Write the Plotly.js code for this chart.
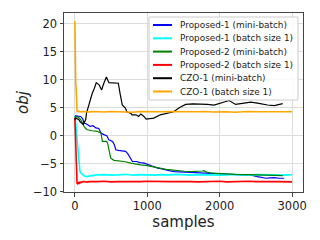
<!DOCTYPE html>
<html>
<head>
<meta charset="utf-8">
<script src="https://cdn.plot.ly/plotly-3.0.1.min.js"></script>
<style>html,body{margin:0;padding:0;background:#fff;}#chart{width:320px;height:240px;}</style>
</head>
<body>
<div id="chart"></div>
<script>
// ---- data ----
const seriesNames = ["Proposed-1 (mini-batch)", "Proposed-1 (batch size 1)", "Proposed-2 (mini-batch)",
  "Proposed-2 (batch size 1)", "CZO-1 (mini-batch)", "CZO-1 (batch size 1)"];
const seriesColors = ["#0000ff", "#00ffff", "#008000", "#ff0000", "#000000", "#ffa500"];

const flatX = [300,400,500,600,700,800,900,1000,1100,1200,1300,1400,1500,1600,1700,1800,1900,2000,2100,2200,2300,2400,2500,2600,2700,2800,2900,3000];

const p1mbX = [0,10,40,80,110,125,160,210,250,290,330,360,400,440,470,520,545,565,600,650,700,730,750,795,850,900,960,1000,1050,1100,1145,1190,1235,1300,1375,1450,1515,1600,1735,1850,2015,2200,2385,2450,2520,2580,2640,2700,2755,2820,2890];
const p1mbY = [3.3,3.6,3.5,3.45,3.0,2.3,2.1,1.7,1.8,1.4,1.3,0.5,0.2,0.0,-0.7,-1.0,-1.6,-2.5,-2.6,-2.7,-2.8,-3.2,-3.7,-4.6,-4.6,-4.8,-4.9,-5.1,-5.4,-5.6,-5.8,-5.9,-6.1,-6.25,-6.4,-6.45,-6.5,-6.5,-6.55,-6.7,-6.8,-6.9,-6.96,-7.1,-7.3,-7.45,-7.6,-7.55,-7.5,-7.6,-7.6];

const p1b1X = [0,5,10,20,30,40,50,60,70,80,100,130,160,200,250].concat(flatX);
const p1b1Y = [3.5,3.3,2.5,1.0,-1.0,-3.0,-4.8,-5.8,-6.3,-6.6,-6.9,-7.2,-7.3,-7.2,-7.1,
  -7.0,-6.95,-7.05,-7.0,-6.9,-7.05,-6.95,-7.0,-7.05,-6.95,-7.0,-6.9,-7.0,-7.05,-6.95,-7.0,-6.95,-7.05,-7.0,-6.9,-7.0,-7.05,-6.95,-7.0,-6.95,-7.0,-7.05,-6.95];

const p2mbX = [0,10,50,80,110,125,150,170,240,310,340,360,380,440,455,470,495,540,600,680,775,850,910,1000,1050,1120,1190,1260,1330,1420,1515,1600,1700,1760,1780,1820,1900,2015,2200,2385,2600,2870];
const p2mbY = [3.0,3.45,3.3,2.9,2.2,1.7,1.3,1.07,0.9,0.8,0.6,0.5,-1.0,-1.0,-1.5,-2.5,-4.0,-4.4,-4.5,-4.6,-4.9,-5.0,-5.2,-5.35,-5.5,-5.7,-5.9,-6.0,-6.1,-6.25,-6.35,-6.4,-6.4,-6.3,-6.25,-6.5,-6.7,-6.8,-6.9,-6.96,-7.05,-7.14];

const p2b1X = [0,5,10,15,20,25,30,40,50,60,70,80,100,130,160,200,250].concat(flatX);
const p2b1Y = [3.2,1.0,-3.0,-6.0,-7.6,-8.3,-8.5,-8.6,-8.4,-8.5,-8.3,-8.4,-8.25,-8.2,-8.3,-8.2,-8.25,
  -8.2,-8.15,-8.25,-8.2,-8.2,-8.3,-8.2,-8.15,-8.2,-8.25,-8.2,-8.2,-8.15,-8.2,-8.25,-8.2,-8.2,-8.15,-8.25,-8.2,-8.2,-8.15,-8.2,-8.25,-8.2,-8.2,-8.2,-8.25];

const czmbX = [0,10,55,70,115,150,160,195,240,270,295,335,370,400,435,470,530,600,625,655,700,718,775,788,845,880,910,950,985,1030,1090,1180,1270,1365,1440,1530,1630,1735,1830,1920,2015,2060,2130,2220,2330,2430,2540,2660,2755,2870];
const czmbY = [2.8,3.2,2.86,2.55,2.0,2.9,4.0,5.8,7.6,8.5,9.5,9.1,8.2,9.4,10.5,9.5,9.4,9.4,7.5,5.5,4.9,4.3,4.0,3.75,3.75,3.45,3.9,3.5,2.97,3.1,3.15,3.75,4.0,4.3,5.0,5.6,5.7,5.7,5.6,5.5,5.8,6.0,6.3,5.6,5.8,6.0,5.8,5.5,5.4,5.75];

const czb1X = [0,4,8,12,16,20,25,30,40,50,70,100,150,200,250].concat(flatX);
const czb1Y = [20.5,12.0,9.5,9.2,8.8,5.0,4.5,4.4,4.3,4.4,4.25,4.35,4.3,4.25,4.35,
  4.3,4.25,4.35,4.3,4.3,4.2,4.35,4.3,4.25,4.3,4.35,4.3,4.25,4.3,4.3,4.35,4.25,4.3,4.3,4.2,4.3,4.35,4.3,4.25,4.3,4.3,4.35,4.3];

const xTicks = [0, 1000, 2000, 3000];
const yTicks = [-10, -5, 0, 5, 10, 15, 20];

// ---- chart ----
const xs = [p1mbX, p1b1X, p2mbX, p2b1X, czmbX, czb1X];
const ys = [p1mbY, p1b1Y, p2mbY, p2b1Y, czmbY, czb1Y];
const traces = [0, 1, 2, 3, 4, 5].map(i => ({
  x: xs[i], y: ys[i], type: 'scatter', mode: 'lines', name: seriesNames[i],
  line: {color: seriesColors[i], width: (i === 1 || i === 3 || i === 5) ? 1.6 : 1.2},
  showlegend: false, hoverinfo: 'skip'
}));

// plot area in pixels
const M = {l: 64, r: 17, t: 13, b: 48};
const W = 320, H = 240;
const pw = W - M.l - M.r, ph = H - M.t - M.b;
const px2x = p => (p - M.l) / pw;
const px2y = p => 1 - (p - M.t) / ph;

// custom legend (matplotlib style)
const legBox = {x0: 149, x1: 298, y0: 17, y1: 100};
const rowY0 = 25, rowStep = 13.3, lineX0 = 153, lineX1 = 172, textX = 178;
const shapes = [{
  type: 'rect', xref: 'paper', yref: 'paper',
  x0: px2x(legBox.x0), x1: px2x(legBox.x1), y0: px2y(legBox.y1), y1: px2y(legBox.y0),
  line: {color: '#cccccc', width: 1}, fillcolor: 'rgba(255,255,255,0.85)', layer: 'above'
}];
const annotations = [];
seriesNames.forEach((n, i) => {
  const yy = px2y(rowY0 + i * rowStep);
  shapes.push({type: 'line', xref: 'paper', yref: 'paper', x0: px2x(lineX0), x1: px2x(lineX1), y0: yy, y1: yy,
    line: {color: seriesColors[i], width: 2}, layer: 'above'});
  annotations.push({xref: 'paper', yref: 'paper', x: px2x(textX), y: yy, xanchor: 'left', yanchor: 'middle',
    text: n, showarrow: false, font: {family: 'DejaVu Sans', size: 8.9, color: '#222'}});
});

const axisCommon = {
  showgrid: true, gridcolor: '#dcdcdc', gridwidth: 1, zeroline: false,
  showline: true, mirror: true, linecolor: '#444', linewidth: 1,
  ticks: 'outside', ticklen: 3.5, tickcolor: '#444', tickwidth: 1,
  tickfont: {family: 'DejaVu Sans', size: 11.5, color: '#222'}
};

const layout = {
  width: W, height: H, margin: M,
  paper_bgcolor: '#ffffff', plot_bgcolor: '#ffffff',
  font: {family: 'DejaVu Sans', color: '#222'},
  showlegend: false,
  xaxis: Object.assign({}, axisCommon, {
    range: [-150, 3150], tickmode: 'array', tickvals: xTicks,
    title: {text: 'samples', font: {family: 'DejaVu Sans', size: 15, color: '#222'}, standoff: 0}
  }),
  yaxis: Object.assign({}, axisCommon, {
    range: [-10.06, 21.96], tickmode: 'array', tickvals: yTicks,
    title: {text: '<i>obj</i>', font: {family: 'DejaVu Sans', size: 15, color: '#222'}, standoff: 0}
  }),
  shapes: shapes, annotations: annotations
};

Plotly.newPlot('chart', traces, layout, {displayModeBar: false, staticPlot: true});
</script>
</body>
</html>
